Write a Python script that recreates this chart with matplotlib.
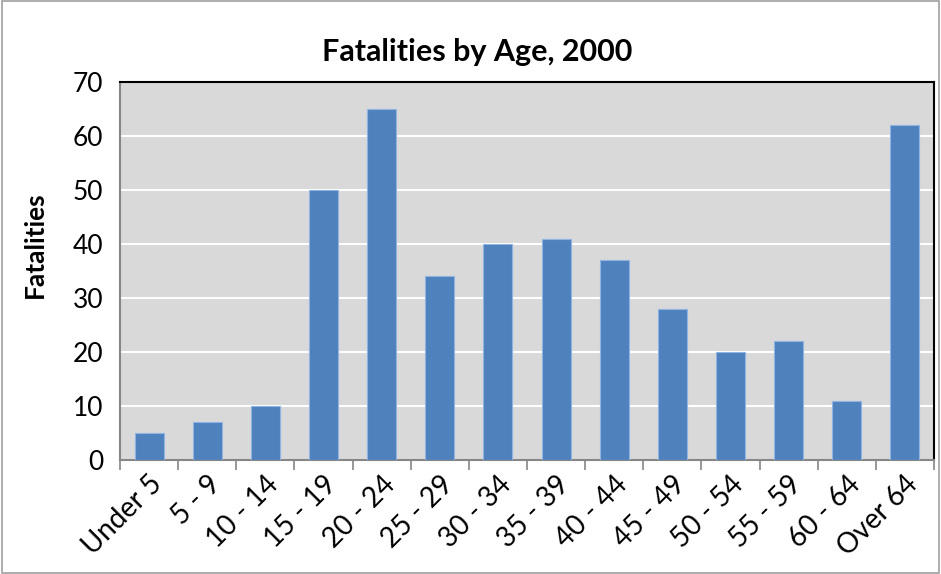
import numpy as np
import matplotlib
matplotlib.use('Agg')
import matplotlib.pyplot as plt
from matplotlib.patches import Rectangle

# Datos del grafico
ages = ['Under 5', '5 - 9', '10 - 14', '15 - 19', '20 - 24', '25 - 29', '30 - 34',
        '35 - 39', '40 - 44', '45 - 49', '50 - 54', '55 - 59', '60 - 64', 'Over 64']
fatalities = [5, 7, 10, 50, 65, 34, 40, 41, 37, 28, 20, 22, 11, 62]

plt.rcParams['font.family'] = ['Lato', 'DejaVu Sans']

fig = plt.figure(figsize=(9.41, 5.74), dpi=100)
ax = fig.add_axes([0.1275, 0.1986, 0.8651, 0.6584])
ax.set_facecolor('#D9D9D9')

x = np.arange(len(ages))
ax.bar(x, fatalities, width=0.5, color='#4F81BD', edgecolor='#8EB4E3', linewidth=0.8, zorder=3)

ax.set_xlim(-0.5, len(ages) - 0.5)
ax.set_ylim(0, 70)
ax.set_yticks(range(0, 71, 10))
ax.yaxis.grid(True, color='white', linewidth=1.5, zorder=1)
ax.set_axisbelow(True)

ax.set_xticks(x)
ax.set_xticklabels(ages, rotation=45, ha='right', rotation_mode='anchor', fontsize=20)
ax.set_xticks(np.arange(-0.5, len(ages)), minor=True)
ax.tick_params(axis='x', which='major', length=0, pad=8)
ax.tick_params(axis='x', which='minor', length=7, width=1.2, color='#868686')
ax.tick_params(axis='y', length=0, labelsize=19, pad=12)

for s in ['left', 'bottom']:
    ax.spines[s].set_color('#868686')
    ax.spines[s].set_linewidth(1.5)
for s in ['top', 'right']:
    ax.spines[s].set_color('black')
    ax.spines[s].set_linewidth(1.5)

ax.set_ylabel('Fatalities', fontsize=19, fontweight='bold', labelpad=12)
ax.yaxis.set_label_coords(-0.09, 0.57)
fig.text(0.507, 0.91, 'Fatalities by Age, 2000', fontsize=22, fontweight='bold',
         ha='center', va='center')

fig.patches.append(Rectangle((0.002, 0.002), 0.996, 0.996, transform=fig.transFigure,
                             fill=False, edgecolor='#A0A0A0', linewidth=1.2))

fig.savefig('out.png', dpi=100)
